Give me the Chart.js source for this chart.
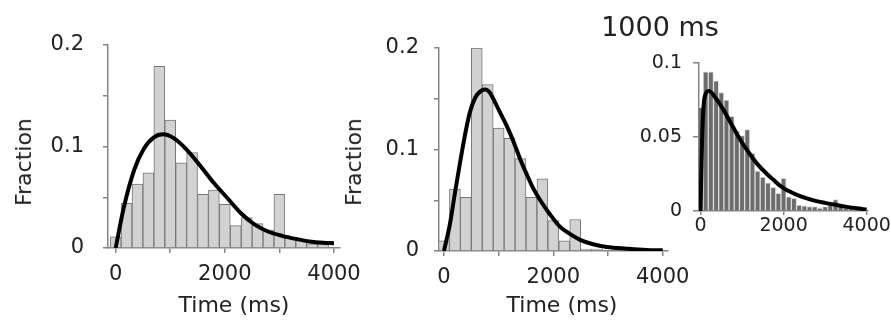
<!DOCTYPE html>
<html>
<head>
<meta charset="utf-8">
<script src="https://cdn.jsdelivr.net/npm/chart.js@4.4.1/dist/chart.umd.min.js"></script>
<style>
  html, body { margin: 0; padding: 0; background: #fff; }
  body { width: 891px; height: 322px; position: relative; overflow: hidden; font-family: "DejaVu Sans", sans-serif; color: #222; }
  canvas { position: absolute; top: 0; }
  .lbl { position: absolute; white-space: nowrap; line-height: 1; transform: translate(-50%, -50%); }
  .rot { transform: translate(-50%, -50%) rotate(-90deg); }
</style>
</head>
<body>
<canvas id="panelA" width="380" height="322" style="left:0px"></canvas>
<canvas id="panelB" width="360" height="322" style="left:340px"></canvas>
<canvas id="panelC" width="291" height="322" style="left:600px"></canvas>

<div class="lbl rot" style="left:24px; top:162px; font-size:22px;">Fraction</div>
<div class="lbl rot" style="left:354px; top:162px; font-size:22px;">Fraction</div>
<div class="lbl" style="left:234px; top:305px; font-size:22px;">Time (ms)</div>
<div class="lbl" style="left:562px; top:305px; font-size:22px;">Time (ms)</div>
<div class="lbl" style="left:660px; top:26px; font-size:27px;">1000 ms</div>

<script>
// histogram bin centres (ms)
const binsAB = [0, 200, 400, 600, 800, 1000, 1200, 1400, 1600, 1800,
                2000, 2200, 2400, 2600, 2800, 3000, 3200, 3400, 3600, 3800];
const binsC = [0, 125, 250, 375, 500, 625, 750, 875, 1000, 1125, 1250, 1375, 1500, 1625, 1750, 1875,
               2000, 2125, 2250, 2375, 2500, 2625, 2750, 2875, 3000, 3125, 3250, 3375, 3500, 3625, 3750, 3875];

// fractions per bin
const fracA = [0.011, 0.044, 0.063, 0.074, 0.179, 0.126, 0.084, 0.094, 0.053, 0.057,
               0.043, 0.022, 0.030, 0.024, 0.018, 0.053, 0.010, 0.0075, 0.004, 0.004];
const fracB = [0.010, 0.061, 0.053, 0.200, 0.164, 0.121, 0.111, 0.091, 0.053, 0.071,
               0.030, 0.010, 0.031, 0.002, 0.002, 0, 0, 0, 0, 0];
const fracC = [0.070, 0.094, 0.094, 0.088, 0.080, 0.075, 0.064, 0.054, 0.051, 0.055, 0.039, 0.027, 0.023, 0.019, 0.016, 0.012,
               0.022, 0.0095, 0.0085, 0.004, 0.0035, 0.003, 0.003, 0.002, 0.003, 0.004, 0.0077, 0.003, 0.002, 0.002, 0.001, 0.001];

// fitted curves
const fitTimeA = [0, 150, 340, 520, 700, 870, 1070, 1300, 1550, 1800, 2050, 2300, 2550, 2800, 3050, 3300, 3550, 3800, 4000];
const fitFracA = [0, 0.040, 0.077, 0.098, 0.109, 0.112, 0.108, 0.097, 0.081, 0.064, 0.049, 0.034, 0.023, 0.016, 0.012, 0.009, 0.0065, 0.0052, 0.0048];
const fitTimeB = [0, 110, 200, 290, 380, 470, 570, 660, 750, 840, 930, 1020, 1150, 1270, 1390, 1510, 1630, 1760,
                  1940, 2120, 2240, 2490, 2730, 2980, 3340, 3700, 4000];
const fitFracB = [0, 0.027, 0.057, 0.086, 0.113, 0.136, 0.151, 0.157, 0.159, 0.156, 0.147, 0.137, 0.123, 0.108, 0.091, 0.076, 0.062, 0.050,
                  0.036, 0.024, 0.019, 0.011, 0.0066, 0.004, 0.0023, 0.001, 0.0007];
const fitTimeC = [0, 40, 100, 200, 400, 560, 720, 960, 1200, 1360, 1600, 1760, 1920, 2160, 2400, 2560, 2720, 3000, 3280, 3520, 3760, 4000];
const fitFracC = [0, 0.050, 0.077, 0.081, 0.075, 0.068, 0.060, 0.048, 0.038, 0.032, 0.025, 0.021, 0.017, 0.013, 0.010, 0.0085, 0.0072, 0.0055, 0.004, 0.0028, 0.0018, 0.001];

// tick values and labels
const timeTicks = [0, 1000, 2000, 3000, 4000];
const timeTickLabels = ['0', '', '2000', '', '4000'];
const fracTicks = [0, 0.05, 0.1, 0.15, 0.2];
const fracTickLabels = ['0', '', '0.1', '', '0.2'];
const timeTicksC = [0, 2000, 4000];
const timeTickLabelsC = ['0', '2000', '4000'];
const fracTicksC = [0, 0.05, 0.1];
const fracTickLabelsC = ['0', '0.05', '0.1'];

const axisGray = '#858585';

function makePanel(id, p) {
    const bars = p.bins.map((x, i) => ({ x: x, y: p.frac[i] }));
    const fit = p.fitTime.map((x, i) => ({ x: x, y: p.fitFrac[i] }));
    const tickFont = { family: 'DejaVu Sans', size: p.fontSize };
    return new Chart(document.getElementById(id).getContext('2d'), {
        type: 'bar',
        data: {
            datasets: [
                {
                    type: 'line',
                    data: fit,
                    borderColor: '#000',
                    borderWidth: 4,
                    pointRadius: 0,
                    cubicInterpolationMode: 'monotone',
                    fill: false,
                    order: 0
                },
                {
                    type: 'bar',
                    data: bars,
                    backgroundColor: p.barFill,
                    borderColor: p.barEdge,
                    borderWidth: 1,
                    barPercentage: 1,
                    categoryPercentage: 1,
                    order: 1
                }
            ]
        },
        options: {
            responsive: false,
            animation: false,
            layout: { padding: { top: p.top, right: p.right, left: 0, bottom: 0 } },
            plugins: { legend: { display: false }, tooltip: { enabled: false } },
            scales: {
                x: {
                    type: 'linear',
                    offset: false,
                    min: p.xMin,
                    max: p.xMax,
                    afterFit: s => { s.height = p.xHeight; },
                    afterBuildTicks: s => { s.ticks = p.xTicks.map(v => ({ value: v })); },
                    ticks: {
                        callback: (v, i) => p.xLabels[i],
                        autoSkip: false,
                        maxRotation: 0,
                        padding: p.xPad,
                        font: tickFont,
                        color: '#222'
                    },
                    grid: { offset: false, drawOnChartArea: false, tickLength: p.xTickLen, color: axisGray, lineWidth: 1.5 },
                    border: { color: axisGray, width: 1.5 }
                },
                y: {
                    min: 0,
                    max: p.yMax,
                    afterFit: s => { s.width = p.yWidth; },
                    afterBuildTicks: s => { s.ticks = p.yTicks.map(v => ({ value: v })); },
                    ticks: {
                        callback: (v, i) => p.yLabels[i],
                        padding: p.yPad,
                        font: tickFont,
                        color: '#222'
                    },
                    grid: { drawOnChartArea: false, tickLength: p.yTickLen, color: axisGray, lineWidth: 1.5 },
                    border: { color: axisGray, width: 1.5 }
                }
            }
        }
    });
}

makePanel('panelA', {
    bins: binsAB, frac: fracA, fitTime: fitTimeA, fitFrac: fitFracA,
    barFill: '#d2d2d2', barEdge: '#777',
    top: 45, right: 40, xHeight: 74, yWidth: 108,
    xMin: -140, xMax: 4110, yMax: 0.2,
    xTicks: timeTicks, xLabels: timeTickLabels, yTicks: fracTicks, yLabels: fracTickLabels,
    fontSize: 21, xPad: 9, yPad: 19, xTickLen: 5, yTickLen: 5
});

makePanel('panelB', {
    bins: binsAB, frac: fracB, fitTime: fitTimeB, fitFrac: fitFracB,
    barFill: '#d2d2d2', barEdge: '#777',
    top: 48, right: 32, xHeight: 71, yWidth: 99,
    xMin: -91, xMax: 4097, yMax: 0.2,
    xTicks: timeTicks, xLabels: timeTickLabels, yTicks: fracTicks, yLabels: fracTickLabels,
    fontSize: 21, xPad: 9, yPad: 15, xTickLen: 5, yTickLen: 5
});

makePanel('panelC', {
    bins: binsC, frac: fracC, fitTime: fitTimeC, fitFrac: fitFracC,
    barFill: '#6c6c6c', barEdge: '#dcdcdc',
    top: 63, right: 23, xHeight: 111, yWidth: 99,
    xMin: -36, xMax: 4031, yMax: 0.1,
    xTicks: timeTicksC, xLabels: timeTickLabelsC, yTicks: fracTicksC, yLabels: fracTickLabelsC,
    fontSize: 19, xPad: 0, yPad: 11, xTickLen: 4, yTickLen: 6
});
</script>
</body>
</html>
